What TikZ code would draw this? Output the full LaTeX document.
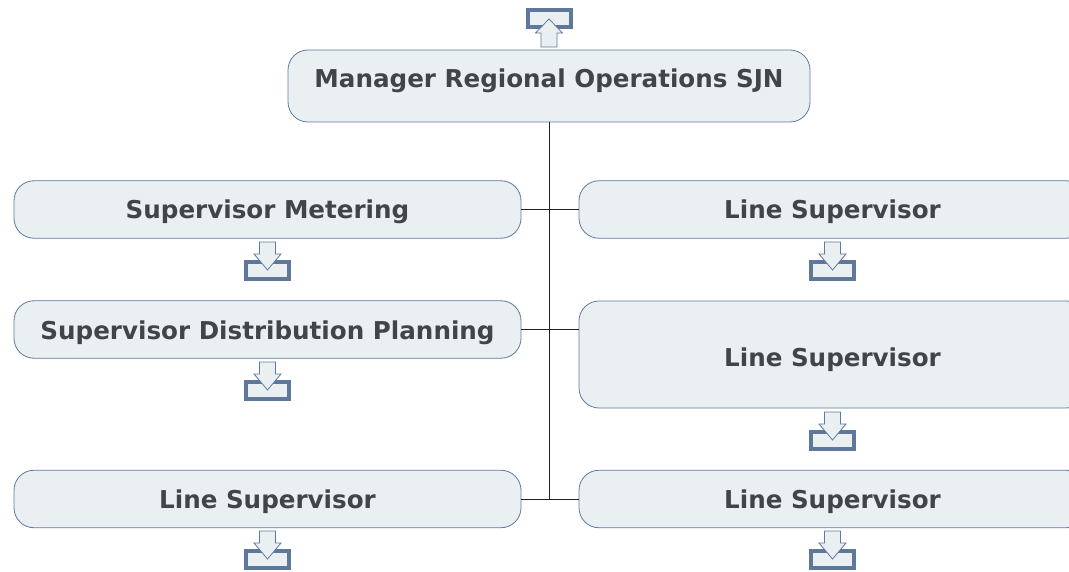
\documentclass[tikz,border=0pt]{standalone}
\usepackage{fontspec}
\setmainfont{DejaVu Sans}
\definecolor{boxfill}{HTML}{EAF0F2}
\definecolor{boxline}{HTML}{5F7A9E}
\definecolor{traycol}{HTML}{5F7799}
\definecolor{txtcol}{HTML}{404547}
\definecolor{linecol}{HTML}{222222}
\tikzset{
  x=1pt,y=-1pt,
  box/.style={draw=boxline,fill=boxfill,line width=0.8pt,rounded corners=20pt,inner sep=0pt,
    text=txtcol,font=\fontsize{24.6}{28}\selectfont\bfseries,align=center,
    text height=19pt,text depth=0pt},
  wide/.style={box,minimum width=507pt,minimum height=57.5pt},
  conn/.style={draw=linecol,line width=0.8pt},
  tray/.style={draw=traycol,line width=4pt,fill=boxfill},
  arr/.style={draw=boxline,line width=0.8pt,fill=boxfill,line join=miter},
  pics/downtray/.style={code={
    \path[tray] (-21.5,20) rectangle (21.5,37);
    \path[arr] (-8,0) -- (8,0) -- (8,12) -- (13.5,12) -- (0,28) -- (-13.5,12) -- (-8,12) -- cycle;
  }},
  pics/uptray/.style={code={
    \path[tray] (-21.5,-37) rectangle (21.5,-20);
    \path[arr] (-8,0) -- (8,0) -- (8,-14) -- (13.5,-14) -- (0,-28) -- (-13.5,-14) -- (-8,-14) -- cycle;
  }}
}
\begin{document}
\begin{tikzpicture}
\useasboundingbox (0,0) rectangle (1069,572);
\clip (0,0) rectangle (1069,572);
\node[box,minimum width=522pt,minimum height=72pt,text depth=15pt] (mgr) at (549,86) {Manager Regional Operations SJN};
\node[wide] (lm) at (267.5,209.5) {Supervisor Metering};
\node[wide] (ld) at (267.5,329.5) {Supervisor Distribution Planning};
\node[wide] (ll) at (267.5,499) {Line Supervisor};
\node[wide] (r1) at (832.5,209.5) {Line Supervisor};
\node[wide,minimum height=107pt,text height=23pt] (r2) at (832.5,354.5) {Line Supervisor};
\node[wide] (r3) at (832.5,499) {Line Supervisor};
\draw[conn] (mgr.south) |- (lm.east);
\draw[conn] (mgr.south) |- (ld.east);
\draw[conn] (mgr.south) |- (ll.east);
\draw[conn] (mgr.south) |- (r1.west);
\draw[conn] (mgr.south) |- (r2.west |- ld.east);
\draw[conn] (mgr.south) |- (r3.west);
\pic at (549,47) {uptray};
\pic at (267.5,242) {downtray};
\pic at (267.5,362) {downtray};
\pic at (267.5,531) {downtray};
\pic at (832.5,242) {downtray};
\pic at (832.5,412) {downtray};
\pic at (832.5,531) {downtray};
\end{tikzpicture}
\end{document}
